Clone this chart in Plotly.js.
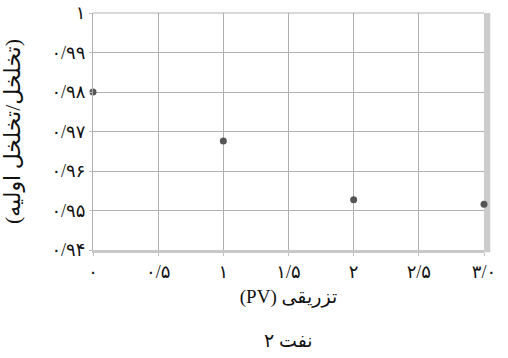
<!DOCTYPE html>
<html>
<head>
<meta charset="utf-8">
<script src="https://cdn.plot.ly/plotly-3.0.1.min.js"></script>
<style>
  html, body { margin: 0; padding: 0; background: #fff; }
  #myDiv { width: 508px; height: 358px; }
</style>
</head>
<body>
<div id="myDiv"></div>
<script>
// injected pore volumes vs porosity ratio (oil 2)
const pvInjected = [0, 1, 2, 3];
const porosityRatio = [0.98, 0.9676, 0.9527, 0.9516];

const xTickVals = [0, 0.5, 1, 1.5, 2, 2.5, 3];
const xTickText = ["۰", "۰/۵", "۱", "۱/۵", "۲", "۲/۵", "۳/۰"];
const yTickVals = [0.94, 0.95, 0.96, 0.97, 0.98, 0.99, 1];
const yTickText = ["۰/۹۴", "۰/۹۵", "۰/۹۶", "۰/۹۷", "۰/۹۸", "۰/۹۹", "۱"];

const fontFam = "'Liberation Serif', 'DejaVu Sans', serif";

const trace1 = {
  x: pvInjected,
  y: porosityRatio,
  type: "scatter",
  mode: "markers",
  marker: { color: "#555555", size: 7 },
  cliponaxis: false,
  showlegend: false,
};

const layout = {
  width: 508,
  height: 358,
  margin: { l: 93, r: 24, t: 13, b: 108 },
  paper_bgcolor: "#ffffff",
  plot_bgcolor: "#ffffff",
  font: { family: fontFam, color: "#111111", size: 18 },
  xaxis: {
    range: [0, 3],
    tickvals: xTickVals,
    ticktext: xTickText,
    showgrid: true,
    gridcolor: "#b0b0b0",
    gridwidth: 1,
    zeroline: false,
    showline: true,
    linecolor: "#c8c8c8",
    linewidth: 3,
    ticks: "outside",
    ticklen: 3,
    tickcolor: "#c0c0c0",
    tickfont: { size: 18, family: fontFam },
    title: { text: "(PV) تزریقی", font: { size: 19, family: fontFam }, standoff: 10 },
  },
  yaxis: {
    range: [0.94, 1],
    tickvals: yTickVals,
    ticktext: yTickText,
    showgrid: true,
    gridcolor: "#b0b0b0",
    gridwidth: 1,
    zeroline: false,
    showline: true,
    linecolor: "#b0b0b0",
    linewidth: 1,
    ticks: "outside",
    ticklen: 3,
    tickcolor: "#c0c0c0",
    tickfont: { size: 18, family: fontFam },
    title: { text: "(تخلخل/تخلخل اولیه)", font: { size: 22, family: fontFam }, standoff: 24 },
  },
  shapes: [
    {
      type: "rect", xref: "paper", yref: "paper",
      x0: 1, x1: 1.016, y0: -0.01, y1: 1,
      fillcolor: "#cccccc", line: { width: 0 }, layer: "below",
    },
    {
      type: "line", xref: "paper", yref: "paper",
      x0: 0, x1: 1, y0: 1, y1: 1,
      line: { color: "#b0b0b0", width: 1 },
    },
  ],
  annotations: [
    {
      text: "نفت ۲", xref: "paper", yref: "paper",
      x: 0.5, y: -0.38, yanchor: "middle", showarrow: false,
      font: { size: 19, family: fontFam },
    },
  ],
};

Plotly.newPlot("myDiv", [trace1], layout, { displayModeBar: false, staticPlot: true });
</script>
</body>
</html>
